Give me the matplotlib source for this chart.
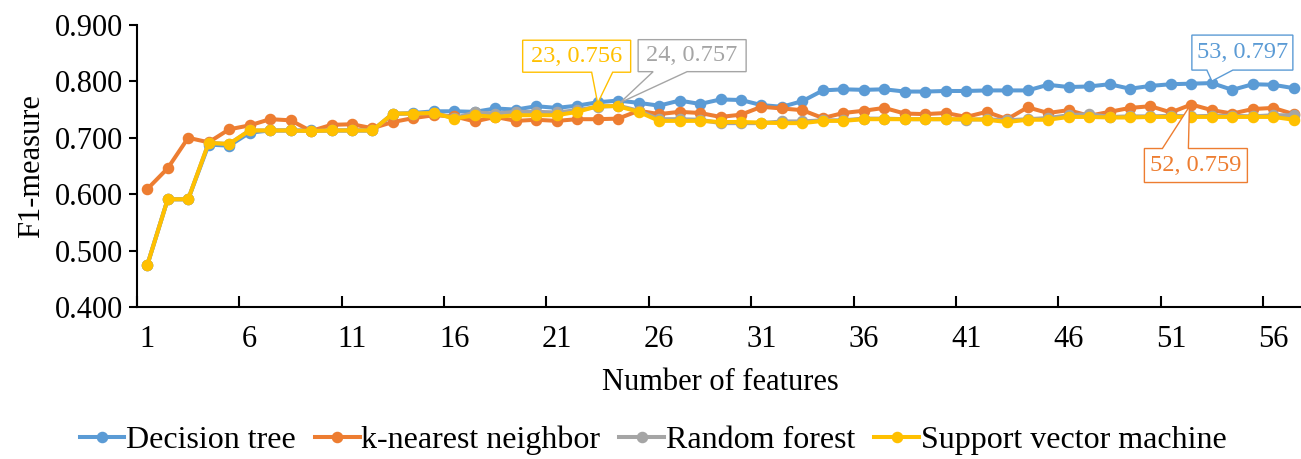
import numpy as np
import matplotlib
matplotlib.use("Agg")
import matplotlib.pyplot as plt
from matplotlib.patches import Polygon
from matplotlib.transforms import ScaledTranslation

plt.rcParams["font.family"] = ["Liberation Serif", "DejaVu Serif"]

# ---- data -------------------------------------------------------------
n_features = list(range(1, 58))

decision_tree = [
    0.474, 0.591, 0.591, 0.688, 0.686, 0.709, 0.713, 0.713, 0.713, 0.713,
    0.713, 0.713, 0.742, 0.744, 0.747, 0.747, 0.746, 0.752, 0.750, 0.756,
    0.753, 0.757, 0.763, 0.766, 0.762, 0.757, 0.766, 0.760, 0.768, 0.767,
    0.758, 0.755, 0.765, 0.784, 0.786, 0.785, 0.786, 0.782, 0.782, 0.783,
    0.783, 0.784, 0.784, 0.784, 0.794, 0.790, 0.791, 0.795, 0.787, 0.792,
    0.795, 0.796, 0.797, 0.785, 0.795, 0.794, 0.788,
]
knn = [
    0.609, 0.646, 0.700, 0.692, 0.715, 0.722, 0.733, 0.731, 0.712, 0.723,
    0.724, 0.717, 0.728, 0.735, 0.740, 0.738, 0.729, 0.737, 0.730, 0.732,
    0.730, 0.733, 0.733, 0.734, 0.748, 0.742, 0.746, 0.744, 0.737, 0.741,
    0.755, 0.752, 0.749, 0.735, 0.744, 0.748, 0.753, 0.743, 0.742, 0.744,
    0.737, 0.746, 0.733, 0.754, 0.744, 0.749, 0.739, 0.746, 0.753, 0.756,
    0.745, 0.759, 0.749, 0.743, 0.751, 0.753, 0.742,
]
random_forest = [
    0.474, 0.591, 0.591, 0.691, 0.689, 0.713, 0.713, 0.713, 0.712, 0.713,
    0.713, 0.713, 0.743, 0.743, 0.744, 0.735, 0.745, 0.743, 0.746, 0.746,
    0.745, 0.749, 0.755, 0.757, 0.748, 0.733, 0.733, 0.732, 0.726, 0.726,
    0.726, 0.729, 0.729, 0.731, 0.731, 0.734, 0.734, 0.733, 0.733, 0.733,
    0.732, 0.733, 0.731, 0.733, 0.735, 0.740, 0.742, 0.737, 0.738, 0.738,
    0.739, 0.738, 0.739, 0.739, 0.738, 0.740, 0.740,
]
svm = [
    0.474, 0.591, 0.591, 0.691, 0.689, 0.713, 0.713, 0.713, 0.712, 0.713,
    0.713, 0.713, 0.743, 0.743, 0.744, 0.734, 0.740, 0.737, 0.740, 0.740,
    0.740, 0.746, 0.756, 0.756, 0.746, 0.730, 0.730, 0.730, 0.728, 0.728,
    0.727, 0.726, 0.726, 0.730, 0.730, 0.733, 0.733, 0.733, 0.733, 0.733,
    0.733, 0.732, 0.728, 0.732, 0.732, 0.737, 0.737, 0.736, 0.736, 0.737,
    0.737, 0.737, 0.737, 0.737, 0.737, 0.737, 0.732,
]

series_names = ["Decision tree", "k-nearest neighbor", "Random forest",
                "Support vector machine"]
series_values = [decision_tree, knn, random_forest, svm]
series_colors = ["#5B9BD5", "#ED7D31", "#A5A5A5", "#FFC000"]

x_tick_labels = n_features[::5]
y_ticks = [0.4, 0.5, 0.6, 0.7, 0.8, 0.9]

# callouts: (series index, feature number)
callouts = [(3, 23), (2, 24), (0, 53), (1, 52)]

# ---- figure -----------------------------------------------------------
W, H, DPI = 1301, 459, 100
fig = plt.figure(figsize=(W / DPI, H / DPI), dpi=DPI)
ax = fig.add_axes([137 / W, 1 - 307 / H, (1304 - 137) / W, (307 - 25) / H])

for name, vals, col in zip(series_names, series_values, series_colors):
    ax.plot(n_features, vals, color=col, lw=2.9, marker="o", ms=7.3,
            mec=col, mfc=col, label=name, solid_joinstyle="round")

ax.set_xlim(0.5, len(n_features) + 0.5)
ax.set_ylim(0.4, 0.9)

ax.set_yticks(y_ticks)
ax.set_yticklabels([f"{v:.3f}" for v in y_ticks])
ax.tick_params(axis="y", direction="out", length=6, width=1.5,
               labelsize=22, pad=4)

ax.set_xticks(x_tick_labels)
ax.set_xticklabels([str(v) for v in x_tick_labels])
ax.set_xticks(np.arange(0.5, len(n_features) + 0.6, 5), minor=True)
ax.tick_params(axis="x", which="major", length=0, labelsize=22, pad=13)
ax.tick_params(axis="x", which="minor", direction="in", length=8, width=1.5)

for side in ("top", "right"):
    ax.spines[side].set_visible(False)
for side in ("left", "bottom"):
    ax.spines[side].set_linewidth(1.5)
    ax.spines[side].set_color("black")

ax.set_xlabel("Number of features", fontsize=22, labelpad=10)
ax.set_ylabel("F1-measure", fontsize=22, labelpad=6)

# ---- callouts (box + wedge pointing at the point), offsets in pixels ----
layout = {
    # box (x0, x1, y0, y1), wedge base (xa, xb, yb), tip (xt, yt)
    (3, 23): ((-75, 33, 34, 66), (-6, 15, 34), (0, 3)),
    (2, 24): ((20, 128, 34, 66), (35, 69, 34), (2, 3)),
    (0, 53): ((-20, 81, 13, 48), (-5, 21, 13), (0, 2)),
    (1, 52): ((-47, 56, -78, -44), (-29, -3, -44), (-2, -2)),
}
for si, feat in callouts:
    val = series_values[si][feat - 1]
    col = series_colors[si]
    (x0, x1, y0, y1), (xa, xb, yb), (xt, yt) = layout[(si, feat)]
    if yb == y0:
        verts = [(x0, y0), (xa, y0), (xt, yt), (xb, y0), (x1, y0),
                 (x1, y1), (x0, y1)]
    else:
        verts = [(x0, y1), (xa, y1), (xt, yt), (xb, y1), (x1, y1),
                 (x1, y0), (x0, y0)]
    verts = [(vx / DPI, vy / DPI) for vx, vy in verts]
    tr = fig.dpi_scale_trans + ScaledTranslation(feat, val, ax.transData)
    ax.add_patch(Polygon(verts, closed=True, transform=tr, fc="white",
                         ec=col, lw=1.0, zorder=5, clip_on=False))
    ax.text((x0 + x1) / 2 / DPI, (y0 + y1) / 2 / DPI, f"{feat}, {val:.3f}",
            transform=tr, ha="center", va="center", color=col,
            fontsize=17.5, zorder=6)

leg = fig.legend(loc="center", bbox_to_anchor=(0.502, 1 - 440 / H), ncol=4,
                 frameon=False, fontsize=23, handlelength=1.4,
                 handletextpad=0.05, columnspacing=0.6, borderaxespad=0)

fig.savefig("out.png", dpi=DPI)
